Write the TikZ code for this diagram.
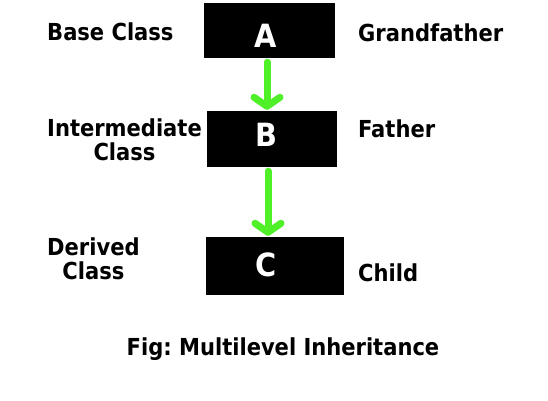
\documentclass[tikz,border=0pt]{standalone}
\usepackage{fontspec}
\setmainfont{DejaVu Sans Condensed}
\frenchspacing
\usetikzlibrary{arrows.meta}
\definecolor{arrowgreen}{RGB}{80,240,40}
\tikzstyle{classbox} = [rectangle, fill=black, text=white, font=\fontsize{32}{32}\selectfont\bfseries, inner sep=0pt]
\tikzstyle{label} = [anchor=west, align=center, inner sep=0pt, font=\fontsize{23.4}{24}\selectfont\bfseries]
\tikzstyle{arrow} = [arrowgreen, line width=7pt, line cap=round, -{Straight Barb[length=9pt, width=26pt, round]}]
\begin{document}
\begin{tikzpicture}[x=1pt, y=-1pt]
    \useasboundingbox [fill=white] (0,0) rectangle (548,400);
    \node [classbox, minimum width=131pt, minimum height=55pt] at (269.5,30.5) (A) {};
    \node [classbox, minimum width=130pt, minimum height=56pt] at (272,139) (B) {};
    \node [classbox, minimum width=138pt, minimum height=58pt] at (275,266) (C) {};
    % letters sit a little left of the box centres
    \node [classbox, fill=none] at (265.5,35.5) (Atext) {A};
    \node [classbox, fill=none] at (266,135) (Btext) {B};
    \node [classbox, fill=none] at (266,265) (Ctext) {C};
    \node [label] at (47,32) (base) {Base Class};
    \node [label] at (47,140) (inter) {Intermediate\\Class};
    \node [label] at (47,259) (derived) {Derived\\Class};
    \node [label] at (358,33) (gf) {Grandfather};
    \node [label] at (358,129) (father) {Father};
    \node [label] at (358,273) (child) {Child};
    \node [label, anchor=center] at (283,349) (caption) {Fig: Multilevel Inheritance};
    \draw [arrow] ([xshift=-2.5pt, yshift=-4pt]A.south) -- ([xshift=-5pt, yshift=1pt]B.north);
    \draw [arrow] ([xshift=-4pt, yshift=-4pt]B.south) -- ([xshift=-7pt, yshift=1pt]C.north);
\end{tikzpicture}
\end{document}
